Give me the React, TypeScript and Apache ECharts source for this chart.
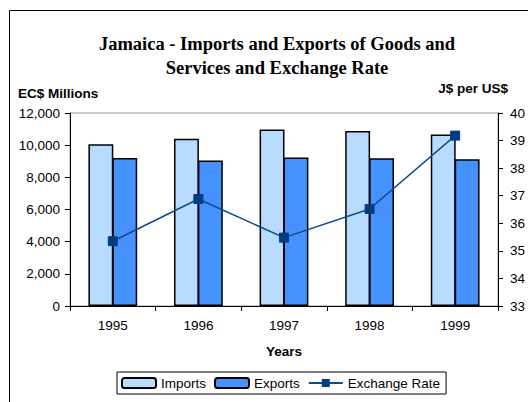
import React, { useEffect, useRef } from "react";
import * as echarts from "echarts";

const years = ["1995", "1996", "1997", "1998", "1999"];
const imports = [10050, 10400, 10970, 10880, 10660];
const exports_ = [9200, 9040, 9230, 9180, 9120];
const exchangeRate = [35.35, 36.88, 35.48, 36.52, 39.18];

const FONT = "Liberation Sans, Arial, sans-serif";

export default function App() {
  const ref = useRef<HTMLDivElement>(null);
  useEffect(() => {
    document.body.style.margin = "0";
    const chart = echarts.init(ref.current!, null, { renderer: "svg" });
    chart.setOption({
      animation: false,
      backgroundColor: "#ffffff",
      title: {
        text: "Jamaica - Imports and Exports of Goods and\nServices and Exchange Rate",
        left: 272,
        top: 27,
        textAlign: "center",
        textStyle: {
          fontFamily: "Liberation Serif, Times New Roman, serif",
          fontWeight: "bold",
          fontSize: 18.5,
          lineHeight: 24,
          color: "#000",
        },
      },
      graphic: [
        {
          type: "rect",
          shape: { x: 9.5, y: 10.5, width: 560, height: 420 },
          style: { fill: "none", stroke: "#000", lineWidth: 1 },
          silent: true,
          z: -1,
        },
        {
          type: "text",
          left: 18,
          top: 86,
          style: {
            text: "EC$ Millions",
            font: `bold 13.5px ${FONT}`,
            fill: "#000",
          },
        },
        {
          type: "text",
          right: 20,
          top: 81,
          style: {
            text: "J$ per US$",
            font: `bold 13.5px ${FONT}`,
            fill: "#000",
          },
        },
      ],
      legend: {
        left: 117,
        top: 372,
        padding: [4, 6, 4, 4],
        itemGap: 8,
        itemWidth: 34,
        itemHeight: 10,
        borderColor: "#000",
        borderWidth: 1,
        textStyle: { fontFamily: FONT, fontSize: 13.5, color: "#000" },
        data: ["Imports", "Exports", "Exchange Rate"],
      },
      grid: {
        left: 70,
        right: 22,
        top: 113,
        bottom: 96,
        show: true,
        borderColor: "#9a9a9a",
        borderWidth: 1,
      },
      xAxis: {
        type: "category",
        data: years,
        name: "Years",
        nameLocation: "middle",
        nameGap: 38,
        nameTextStyle: { fontFamily: FONT, fontWeight: "bold", fontSize: 13.5, color: "#000" },
        axisLine: { lineStyle: { color: "#000", width: 1 } },
        axisTick: { show: true, length: 5, lineStyle: { color: "#000" } },
        axisLabel: { fontFamily: FONT, fontSize: 13.5, color: "#000", margin: 12 },
      },
      yAxis: [
        {
          type: "value",
          min: 0,
          max: 12000,
          interval: 2000,
          position: "left",
          axisLine: { show: true, lineStyle: { color: "#000", width: 1 } },
          axisTick: { show: true, length: 5, lineStyle: { color: "#000" } },
          splitLine: { show: false },
          axisLabel: {
            fontFamily: FONT,
            fontSize: 13.5,
            color: "#000",
            margin: 10,
            formatter: (v: number) => v.toLocaleString("en-US"),
          },
        },
        {
          type: "value",
          min: 33,
          max: 40,
          interval: 1,
          position: "right",
          axisLine: { show: true, lineStyle: { color: "#000", width: 1 } },
          axisTick: { show: true, length: 5, lineStyle: { color: "#000" } },
          splitLine: { show: false },
          axisLabel: { fontFamily: FONT, fontSize: 13.5, color: "#000", margin: 12 },
        },
      ],
      series: [
        {
          name: "Imports",
          type: "bar",
          data: imports,
          barGap: "-4%",
          barCategoryGap: "43%",
          itemStyle: { color: "#B8DCFF", borderColor: "#000", borderWidth: 1.5 },
        },
        {
          name: "Exports",
          type: "bar",
          data: exports_,
          barGap: "-4%",
          barCategoryGap: "43%",
          itemStyle: { color: "#4592FF", borderColor: "#000", borderWidth: 1.5 },
        },
        {
          name: "Exchange Rate",
          type: "line",
          yAxisIndex: 1,
          data: exchangeRate,
          symbol: "rect",
          symbolSize: 9,
          lineStyle: { color: "#0B4C8C", width: 1.5 },
          itemStyle: { color: "#003C80", borderColor: "#003C80" },
          z: 5,
        },
      ],
    });
    return () => chart.dispose();
  }, []);
  return <div ref={ref} style={{ width: 528, height: 402, overflow: "hidden" }} />;
}
